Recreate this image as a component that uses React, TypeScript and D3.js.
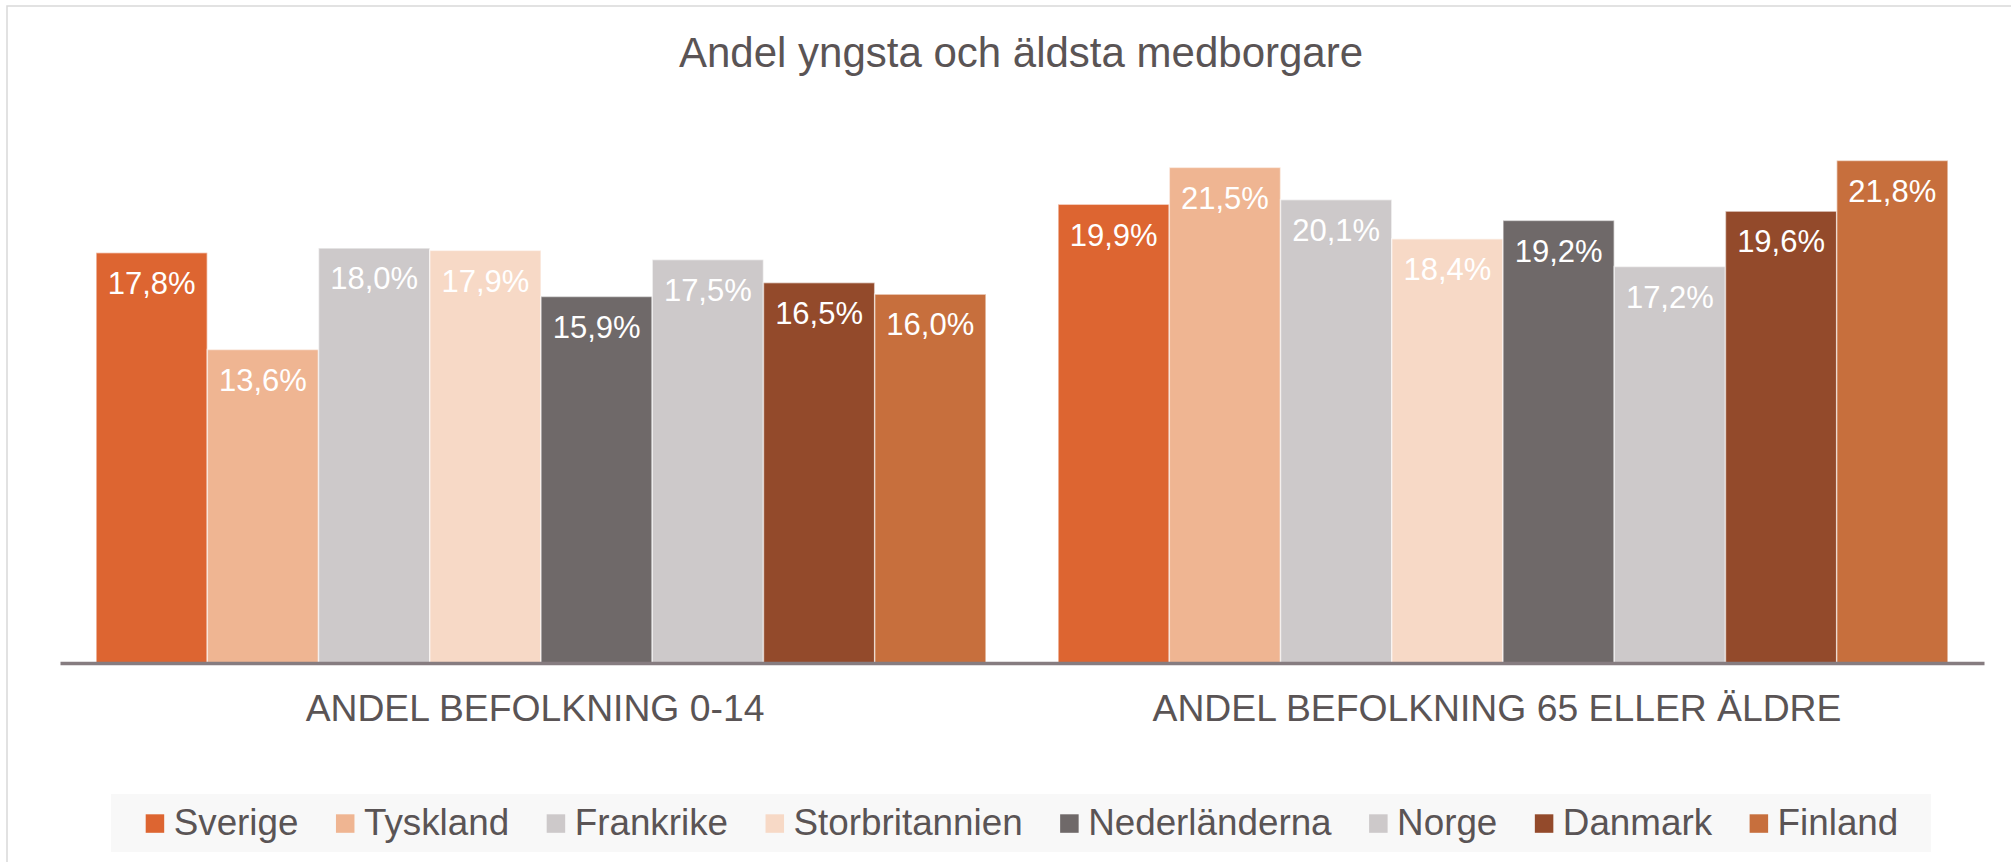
import { useEffect, useRef } from "react";
import * as d3 from "d3";

const title = "Andel yngsta och äldsta medborgare";
const categories = ["ANDEL BEFOLKNING 0-14", "ANDEL BEFOLKNING 65 ELLER ÄLDRE"];
const countries = ["Sverige", "Tyskland", "Frankrike", "Storbritannien", "Nederländerna", "Norge", "Danmark", "Finland"];
const colors = ["#DD6531", "#EFB592", "#CDC9CA", "#F7D9C6", "#6F6969", "#CDC9CA", "#934A2B", "#C76F3D"];
const young = [17.8, 13.6, 18.0, 17.9, 15.9, 17.5, 16.5, 16.0];
const old = [19.9, 21.5, 20.1, 18.4, 19.2, 17.2, 19.6, 21.8];

const FONT = "'Liberation Sans', Arial, sans-serif";
const TEXT = "#5A5455";

export default function App() {
  const svgRef = useRef<SVGSVGElement>(null);

  useEffect(() => {
    if (!svgRef.current) return;
    const W = 2011;
    const H = 862;
    const svg = d3.select(svgRef.current);
    svg.selectAll("*").remove();

    // chart frame (continues past the screenshot on the right/bottom)
    svg.append("rect")
      .attr("x", 7).attr("y", 6)
      .attr("width", W + 50).attr("height", H + 50)
      .attr("fill", "#fff")
      .attr("stroke", "#D9D9D9")
      .attr("stroke-width", 1.5);

    const plotLeft = 60, plotRight = 1984, plotTop = 86.7, plotBottom = 663;

    const x0 = d3.scaleBand<string>().domain(categories).range([plotLeft, plotRight]);
    const pad = x0.bandwidth() * 0.0375;
    const x1 = d3.scaleBand<string>().domain(countries).range([pad, x0.bandwidth() - pad]);
    const y = d3.scaleLinear().domain([0, 25]).range([plotBottom, plotTop]);

    const rows = categories.map((c, ci) => ({
      cat: c,
      values: countries.map((k, i) => ({ key: k, value: ci === 0 ? young[i] : old[i], color: colors[i] })),
    }));

    const groups = svg.selectAll("g.grp")
      .data(rows)
      .enter()
      .append("g")
      .attr("class", "grp")
      .attr("transform", (d) => `translate(${x0(d.cat)},0)`);

    groups.selectAll("rect")
      .data((d) => d.values)
      .enter()
      .append("rect")
      .attr("x", (d) => x1(d.key)!)
      .attr("y", (d) => y(d.value))
      .attr("width", x1.bandwidth())
      .attr("height", (d) => y(0) - y(d.value))
      .attr("fill", (d) => d.color)
      .attr("stroke", "rgba(255,255,255,0.55)")
      .attr("stroke-width", 1.5);

    groups.selectAll("text.lbl")
      .data((d) => d.values)
      .enter()
      .append("text")
      .attr("class", "lbl")
      .attr("x", (d) => x1(d.key)! + x1.bandwidth() / 2)
      .attr("y", (d) => y(d.value) + 41.3)
      .attr("text-anchor", "middle")
      .attr("fill", "#fff")
      .attr("font-family", FONT)
      .attr("font-size", "31px")
      .text((d) => d.value.toFixed(1).replace(".", ",") + "%");

    // axis
    const axis = svg.append("g")
      .attr("transform", `translate(0,${plotBottom})`)
      .call(d3.axisBottom(x0).tickSize(0).tickPadding(58));
    axis.select(".domain").attr("stroke", "#867C80").attr("stroke-width", 3.5);
    axis.selectAll(".tick text")
      .attr("fill", TEXT)
      .attr("font-family", FONT)
      .attr("font-size", "37.3px")
      .attr("dy", 0)
      .attr("x", -6)
      .attr("y", 58);

    // title
    svg.append("text")
      .attr("x", 1021)
      .attr("y", 67)
      .attr("text-anchor", "middle")
      .attr("fill", TEXT)
      .attr("font-family", FONT)
      .attr("font-size", "42px")
      .text(title);

    // legend
    svg.append("rect")
      .attr("x", 111).attr("y", 794)
      .attr("width", 1820).attr("height", 58)
      .attr("fill", "#F8F8F8");

    const legend = svg.append("g");
    let cx = 0;
    countries.forEach((k, i) => {
      const g = legend.append("g").attr("transform", `translate(${cx},0)`);
      g.append("rect")
        .attr("x", 0).attr("y", 814.3)
        .attr("width", 18.5).attr("height", 18.5)
        .attr("fill", colors[i]);
      const t = g.append("text")
        .attr("x", 28)
        .attr("y", 835)
        .attr("fill", TEXT)
        .attr("font-family", FONT)
        .attr("font-size", "36.8px")
        .text(k);
      const w = (t.node() as SVGTextElement).getComputedTextLength();
      cx += 28 + w + (i < countries.length - 1 ? 37.5 : 0);
    });
    const total = cx;
    legend.attr("transform", `translate(${(plotLeft + plotRight) / 2 - total / 2},0)`);
  }, []);

  return (
    <div style={{ position: "absolute", left: 0, top: 0, width: 2011, height: 862, overflow: "hidden" }}>
      <svg ref={svgRef} width={2011} height={862} style={{ display: "block" }} />
    </div>
  );
}
